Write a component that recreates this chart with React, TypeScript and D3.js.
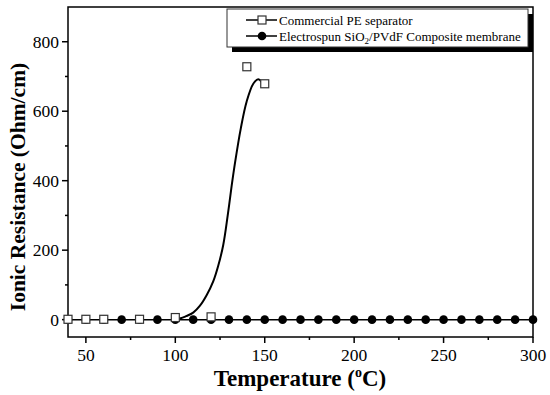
import {line, curveCatmullRom, scaleLinear, range} from "d3";

// Commercial PE separator (squares)
const peTemps = [40, 50, 60, 80, 100, 120, 140, 150];
const peValues = [1, 1, 1, 1, 6, 8, 728, 679];

// fitted curve through the PE data
const fitTemps = [100, 103, 106, 110, 113.8, 117.5, 121.2, 124, 126.8, 129.3, 131.5, 133.4, 136.6, 139.9, 143.6, 146.4, 148.3];
const fitValues = [2, 4, 10, 20, 40, 70, 110, 155, 215, 300, 385, 452, 550, 628, 679, 692, 684];

// Electrospun SiO2/PVdF composite membrane (circles)
const esTemps = [40, 50, 60, 70, 80, 90, 100, 110, 120, 130, 140, 150, 160, 170, 180, 190, 200, 210, 220, 230, 240, 250, 260, 270, 280, 290, 300];
const esValues = [0, 0, 0, 0, 0, 0, 0, 0, 0, 0, 0, 0, 0, 0, 0, 0, 0, 0, 0, 0, 0, 0, 0, 0, 0, 0, 0];

const xTicks = [50, 100, 150, 200, 250, 300];
const yTicks = [0, 200, 400, 600, 800];

const FONT = "'Liberation Serif', 'Times New Roman', serif";

export default function App() {
  const margins = {left: 68, top: 7, right: 17, bottom: 58};
  const width = 550;
  const height = 395;
  const x = scaleLinear().domain([40, 300]).range([margins.left, width - margins.right]);
  const y = scaleLinear().domain([-50, 900]).range([height - margins.bottom, margins.top]);

  const x0 = margins.left;
  const x1 = width - margins.right;
  const yBottom = height - margins.bottom;
  const yTop = margins.top;

  const fitLine = line<number>()
    .x((_, i) => x(fitTemps[i]))
    .y((d) => y(d))
    .curve(curveCatmullRom.alpha(0.5));
  const esLine = line<number>()
    .x((_, i) => x(esTemps[i]))
    .y((d) => y(d));

  const xMinor = range(75, 300, 50);
  const yMinor = range(100, 900, 200);

  const legend = {x: 227, y: 9, w: 301, h: 38};

  return (
    <svg
      width={width}
      height={height}
      style={{position: "absolute", left: 0, top: 0, background: "#fff"}}
      fontFamily={FONT}
    >
      {/* frame */}
      <rect x={x0} y={yTop} width={x1 - x0} height={yBottom - yTop} fill="none" stroke="#000" strokeWidth={1.5} />

      {xTicks.map((t) => (
        <g key={`x-${t}`}>
          <line x1={x(t)} x2={x(t)} y1={yBottom} y2={yBottom + 6} stroke="#000" strokeWidth={1.5} />
          <text x={x(t)} y={yBottom + 24} textAnchor="middle" fontSize={17.5}>
            {t}
          </text>
        </g>
      ))}
      {xMinor.map((t) => (
        <line key={`xm-${t}`} x1={x(t)} x2={x(t)} y1={yBottom} y2={yBottom + 3} stroke="#000" strokeWidth={1.5} />
      ))}

      {yTicks.map((t) => (
        <g key={`y-${t}`}>
          <line x1={x0 - 6} x2={x0} y1={y(t)} y2={y(t)} stroke="#000" strokeWidth={1.5} />
          <text x={x0 - 9} y={y(t) + 6} textAnchor="end" fontSize={17.5}>
            {t}
          </text>
        </g>
      ))}
      {yMinor.map((t) => (
        <line key={`ym-${t}`} x1={x0 - 3} x2={x0} y1={y(t)} y2={y(t)} stroke="#000" strokeWidth={1.5} />
      ))}

      <text x={300} y={386} textAnchor="middle" fontSize={23} fontWeight="bold">
        Temperature (<tspan dy={-9} fontSize={14}>o</tspan>
        <tspan dy={9}>C)</tspan>
      </text>
      <text
        transform={`translate(25,${187}) rotate(-90)`}
        textAnchor="middle"
        fontSize={21.5}
        fontWeight="bold"
      >
        Ionic Resistance (Ohm/cm)
      </text>

      {/* electrospun series */}
      <path d={esLine(esValues) ?? ""} fill="none" stroke="#000" strokeWidth={1.5} />
      {esValues.map((v, i) => (
        <circle key={`es-${i}`} cx={x(esTemps[i])} cy={y(v)} r={4.3} fill="#000" />
      ))}

      {/* PE fit curve + squares */}
      <path d={fitLine(fitValues) ?? ""} fill="none" stroke="#000" strokeWidth={2} />
      {peValues.map((v, i) => (
        <rect
          key={`pe-${i}`}
          x={x(peTemps[i]) - 4}
          y={y(v) - 4}
          width={8}
          height={8}
          fill="#fff"
          stroke="#333"
          strokeWidth={1.2}
        />
      ))}

      {/* legend */}
      <rect x={legend.x + 5} y={legend.y + 5} width={legend.w} height={legend.h} fill="#000" />
      <rect x={legend.x} y={legend.y} width={legend.w} height={legend.h} fill="#fff" stroke="#333" strokeWidth={1} />
      <line x1={246} x2={277} y1={20} y2={20} stroke="#000" strokeWidth={1.5} />
      <rect x={258} y={16} width={8} height={8} fill="#fff" stroke="#333" strokeWidth={1.2} />
      <text x={279} y={24.5} fontSize={13}>
        Commercial PE separator
      </text>
      <line x1={246} x2={277} y1={36} y2={36} stroke="#000" strokeWidth={1.5} />
      <circle cx={262} cy={36} r={4.3} fill="#000" />
      <text x={279} y={40.5} fontSize={13}>
        Electrospun SiO<tspan dy={3} fontSize={9}>2</tspan>
        <tspan dy={-3}>/PVdF Composite membrane</tspan>
      </text>
    </svg>
  );
}
